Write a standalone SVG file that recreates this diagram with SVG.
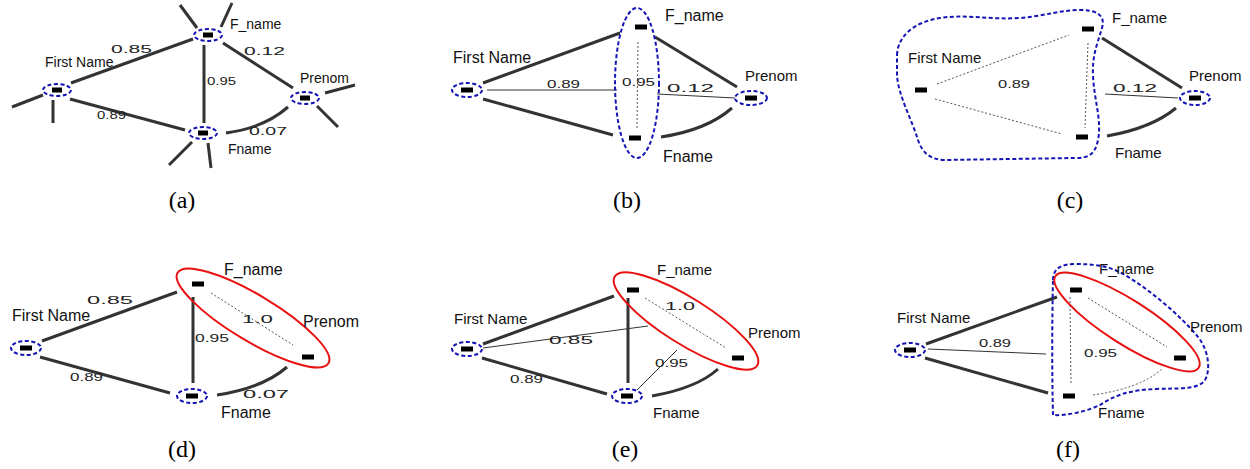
<svg xmlns="http://www.w3.org/2000/svg" width="1250" height="469" viewBox="0 0 1250 469">
<style>
.bg{fill:#fff}
.thick{stroke:#333;stroke-width:3;fill:none;stroke-linecap:butt}
.thin{stroke:#333;stroke-width:1;fill:none}
.dot{stroke:#555;stroke-width:1;fill:none;stroke-dasharray:2 2}
.bd{stroke:#1414b4;stroke-width:2;fill:none;stroke-dasharray:4 2.5}
.red{stroke:#e81010;stroke-width:2;fill:none}
.blk{fill:#000}
.lbl{font-family:"Liberation Sans",Arial,sans-serif;fill:#111}
.num{font-family:"Liberation Sans",Arial,sans-serif;font-size:10px;fill:#222}
.cap{font-family:"Liberation Serif","Times New Roman",serif;font-size:24px;fill:#000;text-anchor:middle}
</style>
<rect class="bg" x="0" y="0" width="1250" height="469"/>

<!-- ===== Panel (a) ===== -->
<g id="a-connectors">
<line class="thick" x1="193" y1="39" x2="71" y2="83"/>
<line class="thick" x1="204" y1="45" x2="204" y2="123"/>
<line class="thick" x1="223" y1="43" x2="293" y2="88"/>
<line class="thick" x1="70" y1="99" x2="185" y2="130"/>
<path class="thick" d="M226,133 Q264,128 288,107"/>
<line class="thick" x1="180" y1="5" x2="197" y2="28"/>
<line class="thick" x1="232" y1="3" x2="221" y2="27"/>
<line class="thick" x1="12" y1="107" x2="43" y2="95"/>
<line class="thick" x1="53" y1="100" x2="53" y2="123"/>
<line class="thick" x1="325" y1="93" x2="355" y2="85"/>
<line class="thick" x1="317" y1="106" x2="338" y2="127"/>
<line class="thick" x1="192" y1="142" x2="169" y2="165"/>
<line class="thick" x1="208" y1="143" x2="211" y2="168"/>
<text class="num" x="111" y="53" textLength="41" lengthAdjust="spacingAndGlyphs">0.85</text>
<text class="num" x="244" y="55" textLength="41" lengthAdjust="spacingAndGlyphs">0.12</text>
<text class="num" x="207" y="85" textLength="29" lengthAdjust="spacingAndGlyphs">0.95</text>
<text class="num" x="97" y="119" textLength="29" lengthAdjust="spacingAndGlyphs">0.89</text>
<text class="num" x="249" y="135" textLength="38" lengthAdjust="spacingAndGlyphs">0.07</text>
</g>
<g id="a-fname">
<ellipse class="bd" cx="208" cy="35" rx="14" ry="6"/>
<rect class="blk" x="203" y="32.5" width="10" height="5"/>
<text class="lbl" x="230" y="29" font-size="14">F_name</text>
</g>
<g id="a-firstname">
<ellipse class="bd" cx="57" cy="90" rx="14" ry="6"/>
<rect class="blk" x="52" y="87.5" width="10" height="5"/>
<text class="lbl" x="45" y="67" font-size="14">First Name</text>
</g>
<g id="a-prenom">
<ellipse class="bd" cx="305" cy="98" rx="14" ry="6"/>
<rect class="blk" x="300" y="95.5" width="10" height="5"/>
<text class="lbl" x="300" y="83" font-size="14">Prenom</text>
</g>
<g id="a-fname2">
<ellipse class="bd" cx="203" cy="133" rx="14" ry="6"/>
<rect class="blk" x="198" y="130.5" width="10" height="5"/>
<text class="lbl" x="228" y="154" font-size="14">Fname</text>
</g>
<text class="cap" x="182" y="208">(a)</text>

<!-- ===== Panel (b) ===== -->
<g id="b-connectors">
<line class="thick" x1="483" y1="83" x2="620" y2="33"/>
<line class="thick" x1="483" y1="99" x2="613" y2="135"/>
<line class="thick" x1="655" y1="37" x2="737" y2="87"/>
<path class="thick" d="M661,137 Q707,130 732,108"/>
<line class="thin" x1="487" y1="90" x2="617" y2="90"/>
<line class="thin" x1="657" y1="94" x2="735" y2="98"/>
<line class="dot" x1="638" y1="42" x2="637" y2="130"/>
<text class="num" x="547" y="88" textLength="33" lengthAdjust="spacingAndGlyphs">0.89</text>
<text class="num" x="622" y="86" textLength="33" lengthAdjust="spacingAndGlyphs">0.95</text>
<text class="num" x="667" y="92" textLength="47" lengthAdjust="spacingAndGlyphs">0.12</text>
</g>
<g id="b-group">
<ellipse class="bd" cx="637" cy="83" rx="22" ry="75"/>
</g>
<g id="b-fname">
<rect class="blk" x="635" y="24.5" width="12" height="5"/>
<text class="lbl" x="665" y="21" font-size="16">F_name</text>
</g>
<g id="b-firstname">
<ellipse class="bd" cx="467" cy="90" rx="15" ry="7"/>
<rect class="blk" x="461" y="87.5" width="12" height="5"/>
<text class="lbl" x="453" y="63" font-size="16">First Name</text>
</g>
<g id="b-prenom">
<ellipse class="bd" cx="751" cy="98" rx="16" ry="7"/>
<rect class="blk" x="745" y="95.5" width="12" height="5"/>
<text class="lbl" x="745" y="81" font-size="15">Prenom</text>
</g>
<g id="b-fname2">
<rect class="blk" x="629" y="135.5" width="12" height="5"/>
<text class="lbl" x="663" y="162" font-size="16">Fname</text>
</g>
<text class="cap" x="627" y="208">(b)</text>

<!-- ===== Panel (c) ===== -->
<g id="c-connectors">
<line class="dot" x1="937" y1="84" x2="1069" y2="35"/>
<line class="dot" x1="935" y1="99" x2="1062" y2="134"/>
<line class="dot" x1="1088" y1="43" x2="1085" y2="128"/>
<line class="thick" x1="1102" y1="38" x2="1182" y2="88"/>
<path class="thick" d="M1107,136 Q1152,128 1176,108"/>
<line class="thin" x1="1105" y1="94" x2="1178" y2="98"/>
<text class="num" x="998" y="88" textLength="32" lengthAdjust="spacingAndGlyphs">0.89</text>
<text class="num" x="1113" y="92" textLength="44" lengthAdjust="spacingAndGlyphs">0.12</text>
</g>
<g id="c-group">
<path class="bd" d="M897,55 C898,35 915,22 940,18 C965,14 990,20 1020,18 C1045,16 1060,10 1080,10 C1095,10 1106,14 1102,28 C1098,42 1092,55 1093,75 C1094,100 1102,120 1098,140 C1095,155 1088,158 1075,158 L945,160 C930,160 922,152 918,140 C912,120 898,95 897,75 Z"/>
</g>
<g id="c-firstname">
<rect class="blk" x="915" y="87.5" width="12" height="5"/>
<text class="lbl" x="908" y="63" font-size="15">First Name</text>
</g>
<g id="c-fname">
<rect class="blk" x="1082" y="26.5" width="12" height="5"/>
<text class="lbl" x="1112" y="23" font-size="15">F_name</text>
</g>
<g id="c-fname2">
<rect class="blk" x="1076" y="134.5" width="12" height="5"/>
<text class="lbl" x="1115" y="158" font-size="15">Fname</text>
</g>
<g id="c-prenom">
<ellipse class="bd" cx="1195" cy="98" rx="15" ry="7"/>
<rect class="blk" x="1189" y="95.5" width="12" height="5"/>
<text class="lbl" x="1189" y="81" font-size="15">Prenom</text>
</g>
<text class="cap" x="1070" y="208">(c)</text>

<!-- ===== Panel (d) ===== -->
<g id="d-connectors">
<line class="thick" x1="42" y1="341" x2="177" y2="292"/>
<line class="thick" x1="40" y1="357" x2="170" y2="393"/>
<line class="thick" x1="193" y1="297" x2="193" y2="383"/>
<path class="thick" d="M217,395 Q263,388 287,367"/>
<line class="dot" x1="211" y1="293" x2="293" y2="345"/>
<text class="num" x="87" y="304" textLength="46" lengthAdjust="spacingAndGlyphs">0.85</text>
<text class="num" x="195" y="342" textLength="34" lengthAdjust="spacingAndGlyphs">0.95</text>
<text class="num" x="242" y="323" textLength="31" lengthAdjust="spacingAndGlyphs">1.0</text>
<text class="num" x="70" y="381" textLength="33" lengthAdjust="spacingAndGlyphs">0.89</text>
<text class="num" x="243" y="398" textLength="46" lengthAdjust="spacingAndGlyphs">0.07</text>
</g>
<g id="d-group">
<ellipse class="red" cx="253" cy="318" rx="88" ry="23" transform="rotate(31 253 318)"/>
</g>
<g id="d-firstname">
<ellipse class="bd" cx="26" cy="348" rx="15" ry="7"/>
<rect class="blk" x="20" y="345.5" width="12" height="5"/>
<text class="lbl" x="12" y="321" font-size="16">First Name</text>
</g>
<g id="d-fname">
<rect class="blk" x="192" y="281.5" width="12" height="5"/>
<text class="lbl" x="224" y="275" font-size="16">F_name</text>
</g>
<g id="d-prenom">
<rect class="blk" x="302" y="354.5" width="12" height="5"/>
<text class="lbl" x="303" y="327" font-size="16">Prenom</text>
</g>
<g id="d-fname2">
<ellipse class="bd" cx="192" cy="396" rx="15" ry="7"/>
<rect class="blk" x="186" y="393.5" width="12" height="5"/>
<text class="lbl" x="221" y="418" font-size="16">Fname</text>
</g>
<text class="cap" x="182" y="457">(d)</text>

<!-- ===== Panel (e) ===== -->
<g id="e-connectors">
<line class="thick" x1="483" y1="344" x2="614" y2="296"/>
<line class="thick" x1="482" y1="358" x2="607" y2="394"/>
<line class="thick" x1="628" y1="298" x2="628" y2="383"/>
<path class="thick" d="M652,396 Q697,388 718,369"/>
<line class="thin" x1="483" y1="348" x2="648" y2="326"/>
<line class="thin" x1="637" y1="390" x2="677" y2="350"/>
<line class="dot" x1="645" y1="298" x2="726" y2="348"/>
<text class="num" x="665" y="310" textLength="30" lengthAdjust="spacingAndGlyphs">1.0</text>
<text class="num" x="549" y="344" textLength="44" lengthAdjust="spacingAndGlyphs">0.85</text>
<text class="num" x="655" y="367" textLength="33" lengthAdjust="spacingAndGlyphs">0.95</text>
<text class="num" x="510" y="383" textLength="33" lengthAdjust="spacingAndGlyphs">0.89</text>
</g>
<g id="e-group">
<ellipse class="red" cx="686" cy="321" rx="84" ry="23" transform="rotate(32 686 321)"/>
</g>
<g id="e-firstname">
<ellipse class="bd" cx="467" cy="349" rx="15" ry="7"/>
<rect class="blk" x="461" y="346.5" width="12" height="5"/>
<text class="lbl" x="454" y="324" font-size="15">First Name</text>
</g>
<g id="e-fname">
<rect class="blk" x="627" y="287.5" width="12" height="5"/>
<text class="lbl" x="657" y="275" font-size="15">F_name</text>
</g>
<g id="e-prenom">
<rect class="blk" x="732" y="355.5" width="12" height="5"/>
<text class="lbl" x="748" y="338" font-size="15">Prenom</text>
</g>
<g id="e-fname2">
<ellipse class="bd" cx="627" cy="396" rx="15" ry="7"/>
<rect class="blk" x="621" y="393.5" width="12" height="5"/>
<text class="lbl" x="653" y="418" font-size="15">Fname</text>
</g>
<text class="cap" x="625" y="457">(e)</text>

<!-- ===== Panel (f) ===== -->
<g id="f-connectors">
<line class="thick" x1="926" y1="344" x2="1057" y2="297"/>
<line class="thick" x1="925" y1="358" x2="1048" y2="393"/>
<line class="thin" x1="928" y1="349" x2="1046" y2="354"/>
<line class="dot" x1="1070" y1="297" x2="1071" y2="385"/>
<line class="dot" x1="1088" y1="298" x2="1167" y2="347"/>
<path class="dot" d="M1093,395 Q1142,388 1163,368"/>
<text class="num" x="979" y="347" textLength="32" lengthAdjust="spacingAndGlyphs">0.89</text>
<text class="num" x="1084" y="357" textLength="33" lengthAdjust="spacingAndGlyphs">0.95</text>
</g>
<g id="f-group">
<path class="bd" d="M1053,280 C1053,268 1062,264 1075,264 C1095,264 1110,266 1125,275 C1150,290 1180,315 1198,337 C1210,352 1210,372 1205,380 C1198,390 1180,388 1155,389 C1130,390 1115,395 1100,405 C1085,412 1065,416 1053,415 C1052,380 1052,320 1053,280 Z"/>
<ellipse class="red" cx="1127" cy="322" rx="85" ry="22" transform="rotate(32.5 1127 322)"/>
</g>
<g id="f-firstname">
<ellipse class="bd" cx="910" cy="350" rx="15" ry="7"/>
<rect class="blk" x="904" y="347.5" width="12" height="5"/>
<text class="lbl" x="897" y="323" font-size="15">First Name</text>
</g>
<g id="f-fname">
<rect class="blk" x="1070" y="287.5" width="12" height="5"/>
<text class="lbl" x="1099" y="274" font-size="15">F_name</text>
</g>
<g id="f-prenom">
<rect class="blk" x="1174" y="355.5" width="12" height="5"/>
<text class="lbl" x="1190" y="332" font-size="15">Prenom</text>
</g>
<g id="f-fname2">
<rect class="blk" x="1063" y="393.5" width="12" height="5"/>
<text class="lbl" x="1098" y="418" font-size="15">Fname</text>
</g>
<text class="cap" x="1068" y="457">(f)</text>
</svg>
